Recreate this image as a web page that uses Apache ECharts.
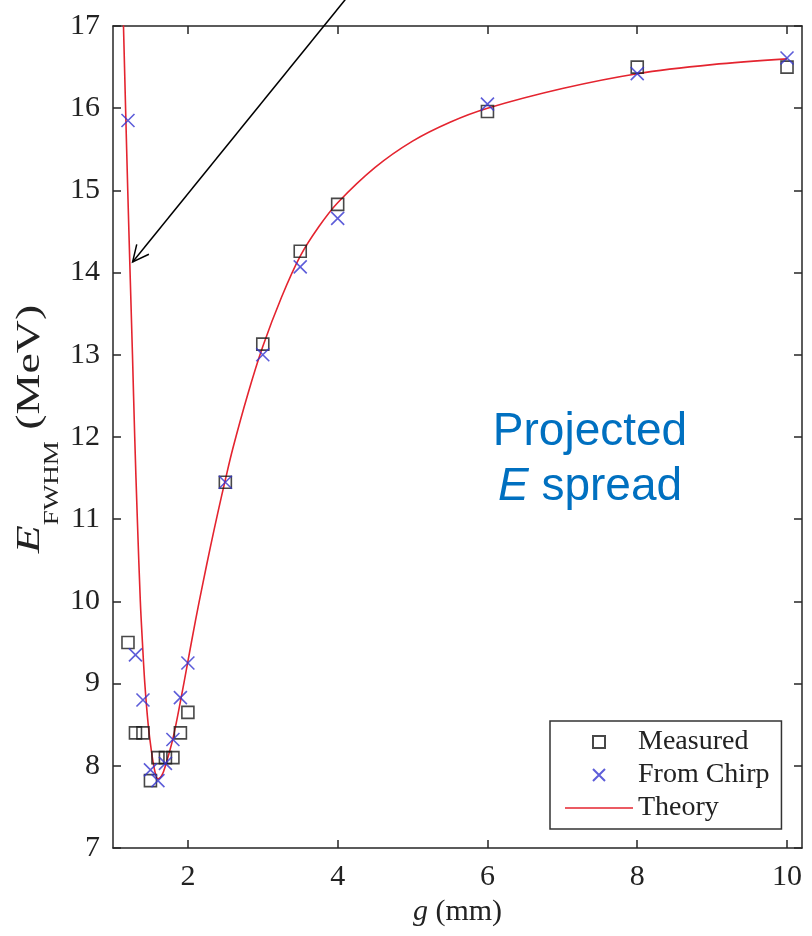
<!DOCTYPE html>
<html><head><meta charset="utf-8">
<script src="https://cdn.jsdelivr.net/npm/echarts@6/dist/echarts.min.js"></script>
<style>html,body{margin:0;padding:0;background:#fff}#c{width:812px;height:936px}</style>
</head><body><div id="c"></div>
<script>
// ---- data ----
const measuredG = [1.2, 1.3, 1.4, 1.5, 1.6, 1.7, 1.8, 1.9, 2.0, 2.5, 3.0, 3.5, 4.0, 6.0, 8.0, 10.0];
const measuredE = [9.5, 8.4, 8.4, 7.82, 8.1, 8.1, 8.1, 8.4, 8.65, 11.45, 13.13, 14.26, 14.83, 15.96, 16.5, 16.5];
const chirpG = [1.2, 1.3, 1.4, 1.5, 1.6, 1.7, 1.8, 1.9, 2.0, 2.5, 3.0, 3.5, 4.0, 6.0, 8.0, 10.0];
const chirpE = [15.85, 9.35, 8.8, 7.95, 7.82, 8.03, 8.32, 8.83, 9.25, 11.45, 13.0, 14.07, 14.66, 16.05, 16.42, 16.61];
const theoryG = [1.13, 1.14, 1.168, 1.197, 1.228, 1.26, 1.29, 1.325, 1.365, 1.393, 1.425, 1.47, 1.51, 1.555, 1.6, 1.65, 1.7, 1.8, 1.9, 2.0, 2.1, 2.2, 2.3, 2.4, 2.5, 2.6, 2.8, 3.0, 3.25, 3.5, 3.75, 4.0, 4.5, 5.0, 5.5, 6.0, 7.0, 8.0, 9.0, 10.0];
const theoryE = [17.35, 17.0, 16.0, 15.0, 14.0, 13.0, 12.0, 11.0, 10.0, 9.5, 9.0, 8.5, 8.2, 7.95, 7.84, 7.88, 8.0, 8.33, 8.78, 9.27, 9.76, 10.22, 10.66, 11.08, 11.48, 11.86, 12.52, 13.1, 13.7, 14.2, 14.56, 14.85, 15.28, 15.6, 15.83, 16.0, 16.24, 16.42, 16.53, 16.6];
const xTickValues = [2, 4, 6, 8, 10];
const yTickValues = [7, 8, 9, 10, 11, 12, 13, 14, 15, 16, 17];
const seriesNames = ['Measured', 'From Chirp', 'Theory'];
const arrowFrom = [4.1, 17.32];
const arrowTo = [1.262, 14.13];

const zip = (a, b) => a.map((v, i) => [v, b[i]]);
const serif = 'Liberation Serif';
const sans = 'Liberation Sans';
const axisColor = '#262626';
const textColor = '#222';
const red = '#e4242f';
const blue = '#3535d0';
const squarePath = 'path://M0,0L10,0L10,10L0,10Z';
const crossPath = 'path://M0,0L10,10M10,0L0,10';

const chart = echarts.init(document.getElementById('c'), null, { renderer: 'canvas' });

const baseX = {
  type: 'value', min: 1, max: 10.2,
  axisLine: { onZero: false, lineStyle: { color: axisColor, width: 1.5 } },
  axisTick: { inside: true, length: 8, customValues: xTickValues, lineStyle: { color: axisColor, width: 1.5 } },
  splitLine: { show: false }
};
const baseY = {
  type: 'value', min: 7, max: 17, interval: 1,
  axisLine: { onZero: false, lineStyle: { color: axisColor, width: 1.5 } },
  axisTick: { inside: true, length: 8, lineStyle: { color: axisColor, width: 1.5 } },
  splitLine: { show: false }
};

const option = {
  animation: false,
  backgroundColor: '#fff',
  grid: { left: 113, right: 10, top: 26, bottom: 88, containLabel: false },
  xAxis: [
    Object.assign({}, baseX, {
      position: 'bottom',
      axisLabel: { customValues: xTickValues, fontFamily: serif, fontSize: 30, color: textColor, margin: 14, lineHeight: 30 },
      name: '{i|g} (mm)', nameLocation: 'middle', nameGap: 49,
      nameTextStyle: {
        fontFamily: serif, fontSize: 30, color: textColor, lineHeight: 30,
        rich: { i: { fontFamily: serif, fontSize: 30, fontStyle: 'italic', color: textColor, lineHeight: 30 } }
      }
    }),
    Object.assign({}, baseX, { position: 'top', axisLabel: { show: false } })
  ],
  yAxis: [
    Object.assign({}, baseY, {
      position: 'left',
      axisLabel: { customValues: yTickValues, fontFamily: serif, fontSize: 30, color: textColor, margin: 13, showMinLabel: true, showMaxLabel: true }
    }),
    Object.assign({}, baseY, { position: 'right', axisLabel: { show: false } })
  ],
  legend: {
    orient: 'vertical', left: 550, top: 721,
    data: [
      { name: seriesNames[0], icon: squarePath },
      { name: seriesNames[1], icon: crossPath },
      { name: seriesNames[2], icon: 'path://M0,0L68,0L68,1.6L0,1.6Z', itemStyle: { color: red, borderWidth: 0 } }
    ],
    symbolKeepAspect: true,
    itemWidth: 68, itemHeight: 12, itemGap: 5,
    padding: [7, 12, 7, 15],
    borderColor: '#333', borderWidth: 1.5, backgroundColor: '#fff',
    textStyle: { fontFamily: serif, fontSize: 28, color: textColor, lineHeight: 27 }
  },
  series: [
    {
      name: seriesNames[2], type: 'line', data: zip(theoryG, theoryE),
      symbol: 'none', smooth: 0.35, clip: true,
      lineStyle: { color: red, width: 1.6 }, itemStyle: { color: red }, z: 2
    },
    {
      name: seriesNames[0], type: 'scatter', data: zip(measuredG, measuredE),
      symbol: squarePath, symbolSize: 12,
      itemStyle: { color: 'rgba(0,0,0,0)', borderColor: '#1a1a1a', borderWidth: 1.6 }, z: 3
    },
    {
      name: seriesNames[1], type: 'scatter', data: zip(chirpG, chirpE),
      symbol: crossPath, symbolSize: 13,
      itemStyle: { color: 'rgba(0,0,0,0)', borderColor: blue, borderWidth: 1.6 }, z: 4
    }
  ]
};
chart.setOption(option);

const p0 = chart.convertToPixel({ gridIndex: 0 }, arrowFrom);
const p1 = chart.convertToPixel({ gridIndex: 0 }, arrowTo);
const ang = Math.atan2(p0[1] - p1[1], p0[0] - p1[0]);
const wingLen = 18, spread = 0.45;
const w1 = [p1[0] + wingLen * Math.cos(ang + spread), p1[1] + wingLen * Math.sin(ang + spread)];
const w2 = [p1[0] + wingLen * Math.cos(ang - spread), p1[1] + wingLen * Math.sin(ang - spread)];

chart.setOption({
  graphic: [
    { type: 'line', z: 100, shape: { x1: p0[0], y1: p0[1], x2: p1[0], y2: p1[1] }, style: { stroke: '#000', lineWidth: 1.5 } },
    { type: 'polyline', z: 100, shape: { points: [w1, p1, w2] }, style: { stroke: '#000', lineWidth: 1.5, fill: null } },
    // y-axis title (rotated, stretched along its length like the reference)
    { type: 'text', z: 100, x: 30, y: 429, rotation: Math.PI / 2, scaleX: 1.35, scaleY: 1,
      style: {
        text: '{e|E}{s|FWHM}{n| (MeV)}', align: 'center', verticalAlign: 'middle', textAlign: 'center', textVerticalAlign: 'middle',
        fill: textColor, fontFamily: serif, fontSize: 34,
        rich: {
          e: { fontFamily: serif, fontSize: 34, fontStyle: 'italic', fill: textColor, lineHeight: 66, verticalAlign: 'middle' },
          s: { fontFamily: serif, fontSize: 20, fill: textColor, lineHeight: 20, verticalAlign: 'bottom' },
          n: { fontFamily: serif, fontSize: 34, fill: textColor, lineHeight: 66, verticalAlign: 'middle' }
        }
      } },
    { type: 'text', z: 100, x: 590, y: 432,
      style: { text: 'Projected', fontFamily: sans, fontSize: 46, fill: '#0070c0', align: 'center', verticalAlign: 'middle', textAlign: 'center', textVerticalAlign: 'middle' } },
    { type: 'text', z: 100, x: 590, y: 487,
      style: { text: '{i|E} spread', fontFamily: sans, fontSize: 46, fill: '#0070c0', align: 'center', verticalAlign: 'middle', textAlign: 'center', textVerticalAlign: 'middle',
        rich: { i: { fontFamily: sans, fontSize: 46, fontStyle: 'italic', fill: '#0070c0' } } } }
  ]
});
</script>
</body></html>
